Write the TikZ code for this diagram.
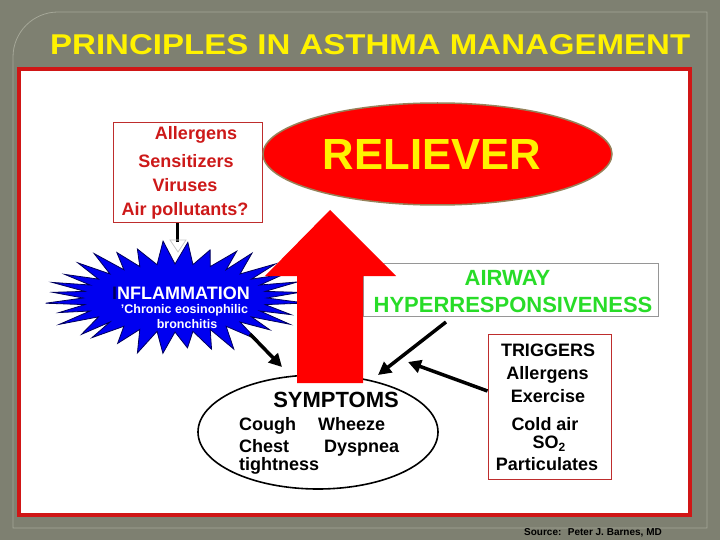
\documentclass[tikz,border=0pt]{standalone}
\usepackage{fontspec}
\setmainfont{Liberation Sans}
\usetikzlibrary{arrows.meta,shapes.geometric}
\definecolor{bggray}{RGB}{126,128,113}
\definecolor{panelline}{RGB}{165,167,152}
\definecolor{framered}{RGB}{208,22,22}
\definecolor{boxred}{RGB}{190,45,45}
\definecolor{txtred}{RGB}{205,25,25}
\definecolor{ahrgreen}{RGB}{40,220,40}
\definecolor{starblue}{RGB}{0,0,240}
\definecolor{starline}{RGB}{0,0,90}
\definecolor{relborder}{RGB}{150,130,90}
\definecolor{ahrborder}{RGB}{150,150,150}
\tikzset{
  f18/.style={font=\fontsize{18}{20}\selectfont\bfseries},
  redtxt/.style={f18, text=txtred, anchor=base, inner sep=0pt},
  blktxt/.style={f18, text=black, anchor=base, inner sep=0pt},
  sympt/.style={f18, text=black, anchor=base west, inner sep=0pt},
  greentxt/.style={font=\fontsize{22}{24}\selectfont\bfseries, text=ahrgreen, anchor=base, inner sep=0pt},
  whitetxt/.style={text=white, anchor=base, inner sep=0pt},
  thinbox/.style={draw=boxred, line width=1pt, fill=white, inner sep=0pt},
  blackarrow/.style={draw=black, line width=3.5pt, -{Triangle[length=13pt,width=13pt]}},
}
\begin{document}
\begin{tikzpicture}[x=1pt, y=-1pt]
\useasboundingbox (0,0) rectangle (720,540);
% background
\fill[bggray] (0,0) rectangle (720,540);
\draw[panelline, line width=0.8pt] (13,528) -- (13,57) arc[start angle=180, end angle=270, radius=45] -- (707,12) -- (707,528) -- cycle;
% title
\node[anchor=base west, inner sep=0pt, text=yellow] (title) at (50,55)
  {\resizebox{640pt}{20pt}{\bfseries PRINCIPLES IN ASTHMA MANAGEMENT}};
% white frame
\node[draw=framered, fill=white, line width=4pt, minimum width=671pt, minimum height=446pt, inner sep=0pt] (frame) at (354.5,292) {};
% allergens box
\node[thinbox, minimum width=149pt, minimum height=100pt] (allbox) at (187.5,173) {};
\node[redtxt] (t1) at (196,140) {Allergens};
\node[redtxt] (t2) at (186,168) {Sensitizers};
\node[redtxt] (t3) at (185,192) {Viruses};
\node[redtxt] (t4) at (185,215) {Air pollutants?};
% reliever ellipse
\node[ellipse, fill=red, draw=relborder, line width=1.5pt, minimum width=349pt, minimum height=102pt, inner sep=0pt] (rel) at (437.5,154) {};
\node[anchor=base, inner sep=0pt, text=yellow] (reltxt) at (432,170)
  {\resizebox{218pt}{30pt}{\bfseries RELIEVER}};
% AHR box
\node[draw=ahrborder, fill=white, line width=1pt, minimum width=295pt, minimum height=53pt, inner sep=0pt] (ahr) at (510.5,289.5) {};
\node[greentxt] (ahr1) at (507.5,285) {AIRWAY};
\node[greentxt] (ahr2) at (513,312) {HYPERRESPONSIVENESS};
% triggers box
\node[thinbox, minimum width=123pt, minimum height=145pt] (trig) at (549.5,406.5) {};
\node[blktxt] (g1) at (548,356) {TRIGGERS};
\node[blktxt] (g2) at (547.5,379) {Allergens};
\node[blktxt] (g3) at (548,402) {Exercise};
\node[blktxt] (g4) at (545,430) {Cold air};
\node[blktxt] (g5) at (549,448) {SO\raisebox{-3pt}{\fontsize{12}{12}\selectfont\bfseries 2}};
\node[blktxt] (g6) at (547,470) {Particulates};
% starburst
\filldraw[fill=starblue, draw=starline, line width=0.8pt]
  plot[samples at={0,...,63}, variable=\k]
  ({175+(92+34*mod(\k,2)*(1+0.15*sin(97*\k)))*cos(5.625*\k)},
   {298+(34+20*mod(\k,2)*(1+0.2*cos(131*\k)))*sin(5.625*\k)}) -- cycle;
\node[whitetxt, font=\fontsize{18}{20}\selectfont\bfseries] (inf) at (181,299) {{\color{starline}I}NFLAMMATION};
\node[whitetxt, font=\fontsize{12.5}{14}\selectfont\bfseries] (inf2) at (184.5,313) {'Chronic eosinophilic};
\node[whitetxt, font=\fontsize{12.5}{14}\selectfont\bfseries] (inf3) at (187,328) {bronchitis};
% arrow from allergens box
\coordinate (allend) at (177.5,242);
\draw[line width=3pt] (allbox.south -| allend) -- (allend);
\draw[gray!45, line width=0.8pt] (170,240) -- (186,240) -- (178,252) -- cycle;
% symptoms ellipse
\node[ellipse, draw=black, line width=1.6pt, fill=white, minimum width=240pt, minimum height=114pt, inner sep=0pt] (symp) at (318,432) {};
% big red arrow
\fill[red] (330,210) -- (396,276) -- (363,276) -- (363,383) -- (297,383) -- (297,276) -- (265,276) -- cycle;
% symptoms text
\node[anchor=base, inner sep=0pt, font=\fontsize{22}{24}\selectfont\bfseries] (sy) at (336,407) {SYMPTOMS};
\node[sympt] (s1) at (239,430) {Cough};
\node[sympt] (s2) at (318,430) {Wheeze};
\node[sympt] (s3) at (239,452) {Chest};
\node[sympt] (s4) at (324,452) {Dyspnea};
\node[sympt] (s5) at (239,470) {tightness};
% black arrows
\coordinate (a1s) at (250,334);
\coordinate (a1e) at (282,367);
\coordinate (a2s) at (446,322);
\coordinate (a2e) at (378,375);
\coordinate (a3e) at (408,362);
\draw[blackarrow] (a1s) -- (a1e);
\draw[blackarrow] (a2s) -- (a2e);
\draw[blackarrow] (trig.west |- 0,391) -- (a3e);
% source
\node[anchor=base, inner sep=0pt, font=\fontsize{10}{11}\selectfont\bfseries] (src) at (593,535) {Source:~ Peter J. Barnes, MD};
\end{tikzpicture}
\end{document}
